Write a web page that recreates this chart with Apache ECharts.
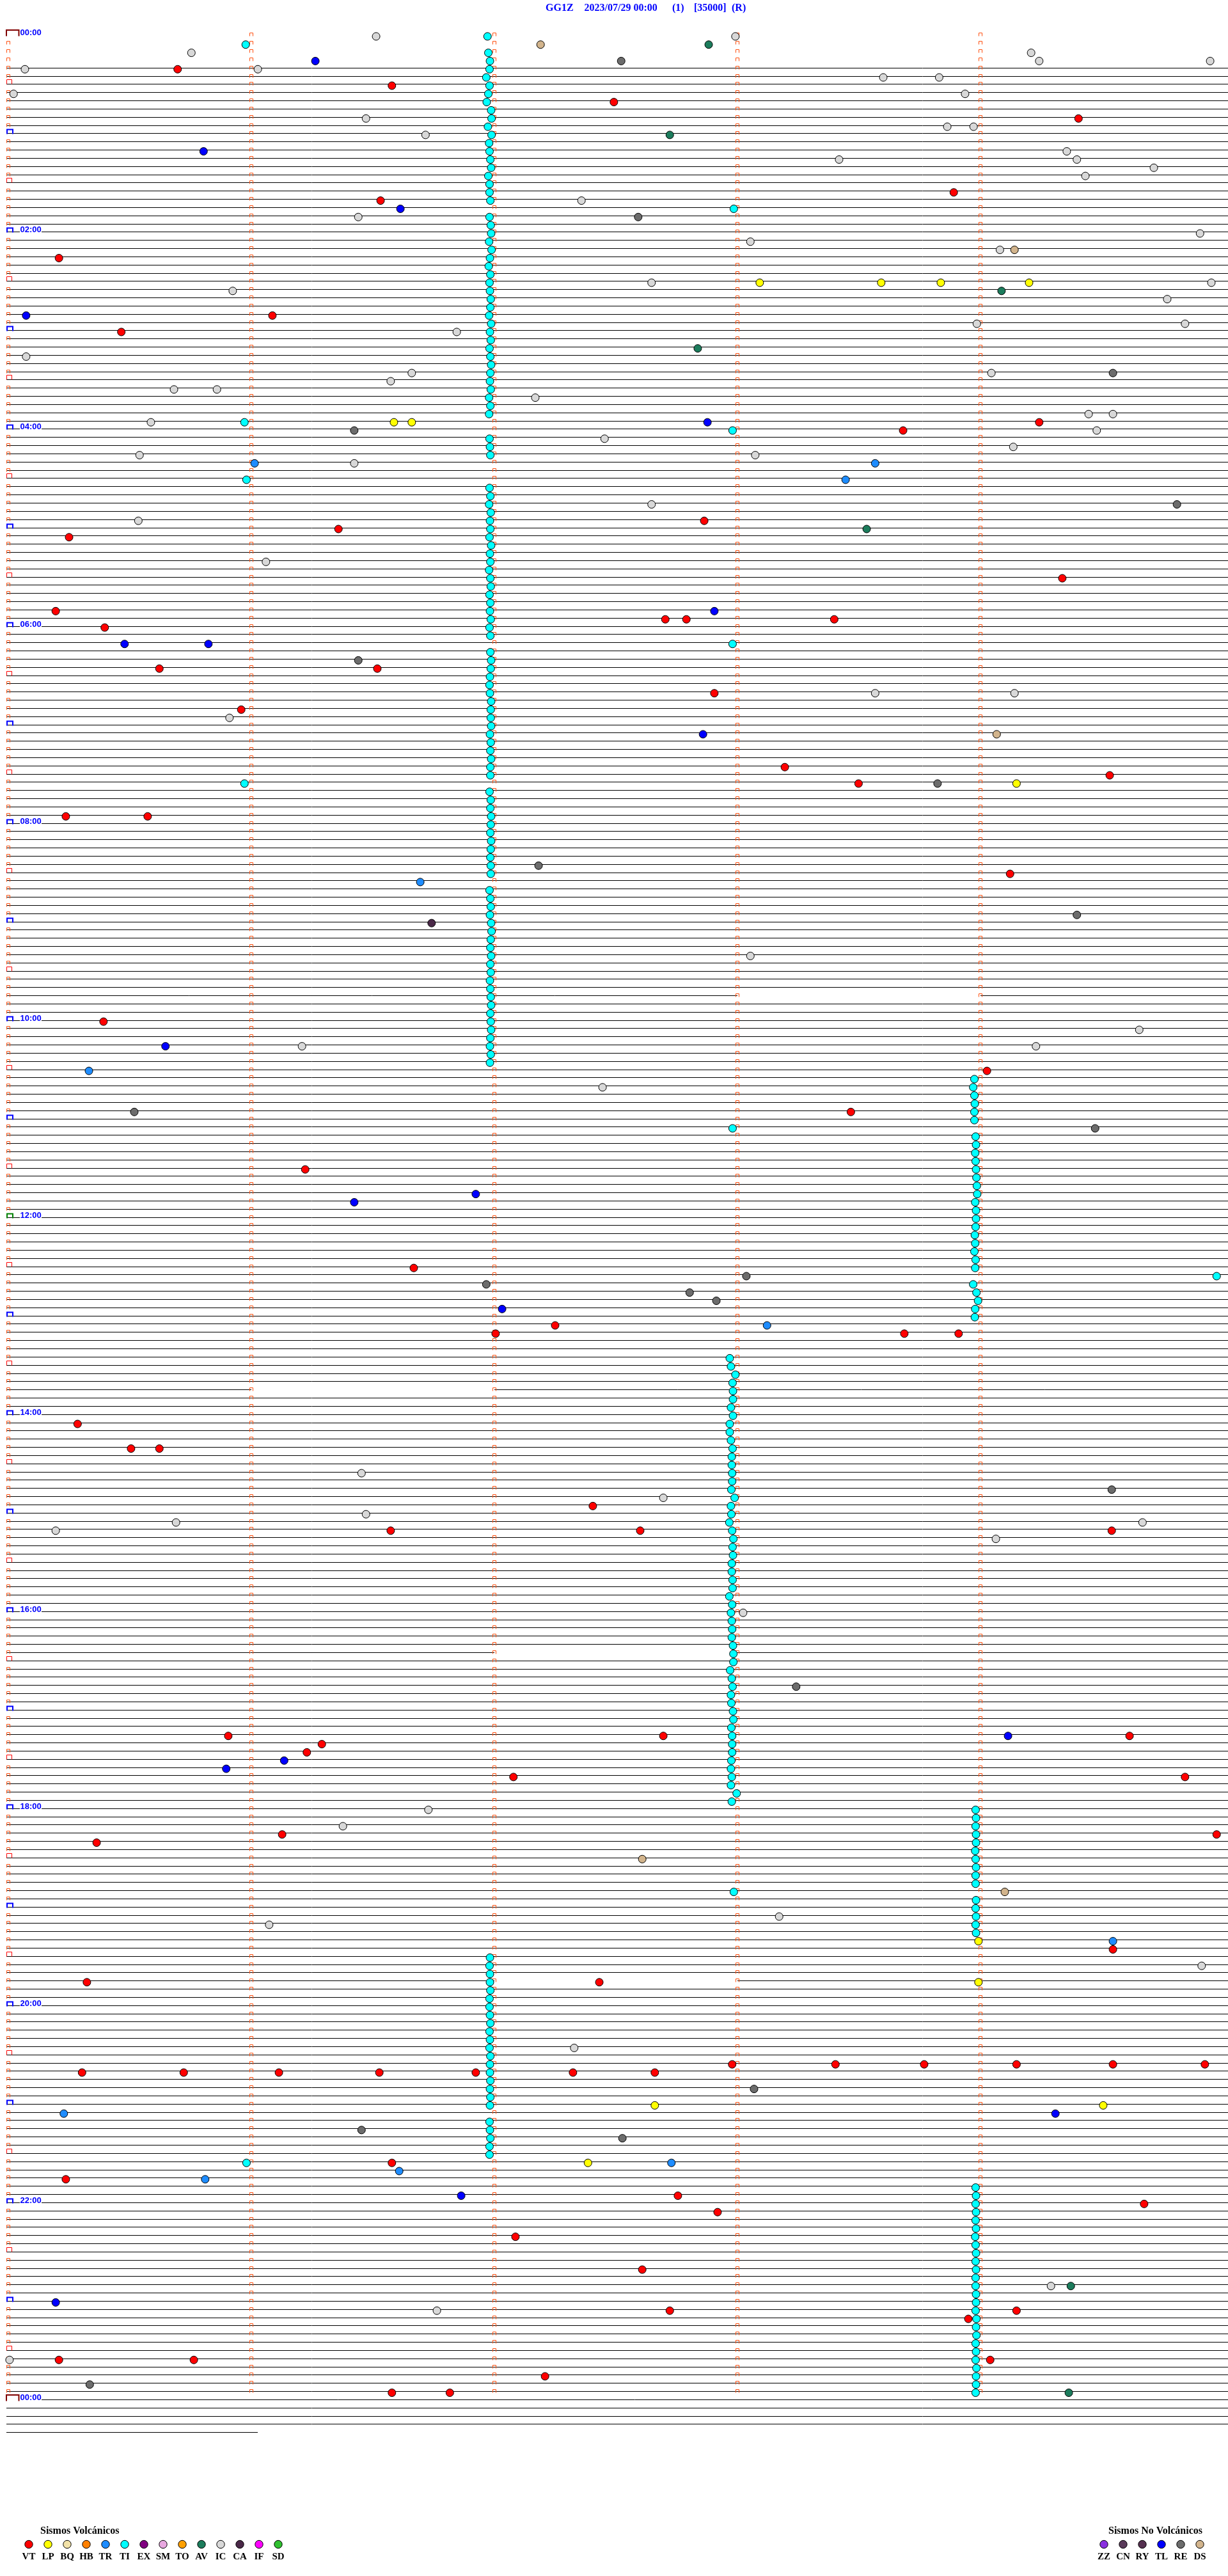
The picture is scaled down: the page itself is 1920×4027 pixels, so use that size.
<!DOCTYPE html>
<html><head><meta charset="utf-8">
<script src="https://cdn.jsdelivr.net/npm/echarts@6/dist/echarts.min.js"></script>
<style>html,body{margin:0;padding:0;background:#fff}#c{width:1920px;height:4027px}</style>
</head><body><div id="c"></div>
<script>
// ---------------- DATA ----------------
const TITLE_TEXTS = ['GG1Z', '2023/07/29 00:00', '(1)', '[35000]', '(R)'];
const TIME_LABELS = ['00:00','02:00','04:00','06:00','08:00','10:00','12:00','14:00','16:00','18:00','20:00','22:00','00:00'];
const ROWS_PER_DAY = 288;          // 5-minute rows
const EXTRA_ROWS = 4;              // trailing empty rows
const LAST_ROW_END_SEC = 61.6;     // the very last trace ends early
const ROW_GAPS = [[117,180,240],[165,60,120],[197,120,180],[237,120,180]]; // [row, fromSec, toSec]
const VOLC_TYPES = ['VT','LP','BQ','HB','TR','TI','EX','SM','TO','AV','IC','CA','IF','SD'];
const NONV_TYPES = ['ZZ','CN','RY','TL','RE','DS'];

// events: [row (5-min slot), second within the row]
const VT = [[4,41.8],[6,94.7],[8,149.5],[10,264.2],[19,233.4],[20,91.9],[27,12.5],[34,65.2],[36,27.9],[47,254.5],[48,220.9],[59,171.8],[60,81.5],[61,15.0],[66,260.2],[70,11.7],[71,162.2],[71,167.4],[71,203.9],[72,23.8],[77,91.1],[77,37.3],[80,174.3],[82,57.5],[89,191.7],[90,271.9],[91,209.9],[95,14.2],[95,34.4],[102,247.3],[120,23.5],[126,241.6],[131,208.0],[138,73.3],[150,100.1],[157,135.0],[158,120.3],[158,221.2],[158,234.6],[169,17.1],[172,30.3],[172,37.3],[179,144.3],[182,94.4],[182,156.0],[182,272.4],[207,54.3],[207,161.7],[207,276.8],[208,77.4],[209,73.7],[212,124.7],[212,290.5],[219,67.6],[219,298.3],[220,21.8],[233,272.7],[237,19.4],[237,145.9],[247,178.7],[247,204.2],[247,226.1],[247,248.9],[247,272.7],[247,295.4],[248,18.2],[248,43.3],[248,66.8],[248,91.6],[248,115.4],[248,139.4],[248,159.6],[259,94.7],[261,14.2],[263,165.3],[264,280.4],[265,175.1],[268,125.2],[272,156.5],[277,163.3],[277,248.9],[278,237.0],[283,12.5],[283,45.8],[283,242.4],[285,132.5],[287,94.7],[287,109.0]];
const LP = [[30,185.5],[30,215.5],[30,230.2],[30,252.0],[47,95.2],[47,99.6],[91,248.9],[232,239.5],[237,239.5],[252,159.6],[252,270.3],[259,143.1]];
const TR = [[52,60.8],[52,214.0],[54,206.7],[103,101.7],[126,19.9],[157,187.3],[232,272.7],[253,13.7],[259,163.7],[260,96.5],[261,48.6]];
const AV = [[1,172.9],[12,163.3],[31,245.2],[38,170.2],[60,211.9],[274,262.3],[287,261.8]];
const CA = [[108,104.5]];
const IC = [[0,90.8],[0,179.5],[2,45.2],[2,252.5],[3,254.5],[3,296.7],[4,4.1],[4,61.6],[5,216.0],[5,229.8],[7,1.3],[7,236.2],[10,88.3],[11,231.8],[11,238.3],[12,103.0],[14,261.3],[15,263.8],[15,205.1],[16,282.8],[17,265.9],[20,141.5],[22,86.4],[24,294.2],[25,183.2],[26,244.8],[30,158.8],[30,297.0],[31,55.4],[32,286.1],[35,239.1],[35,290.5],[36,110.7],[39,4.4],[41,99.6],[41,242.7],[42,94.4],[43,40.9],[43,51.5],[44,130.1],[46,266.7],[46,272.7],[47,35.2],[48,268.7],[49,147.2],[50,248.1],[51,32.4],[51,184.4],[52,85.4],[57,158.8],[59,32.1],[64,63.6],[80,214.0],[80,248.4],[83,54.6],[112,183.2],[121,279.2],[123,72.5],[123,253.7],[128,146.7],[175,87.2],[178,161.7],[180,88.3],[181,41.4],[181,280.0],[182,11.7],[183,243.8],[192,181.4],[216,103.7],[218,82.6],[229,190.3],[230,64.4],[235,294.6],[245,139.7],[274,257.4],[277,105.8],[283,0.3]];
const TL = [[3,75.8],[14,48.2],[21,96.8],[34,4.4],[47,172.6],[70,174.3],[74,28.7],[74,49.4],[85,171.5],[123,38.8],[141,115.4],[142,85.4],[155,121.9],[207,246.8],[210,68.1],[211,53.8],[253,258.5],[263,111.8],[276,11.7]];
const RE = [[3,151.3],[22,155.5],[41,272.7],[48,85.4],[57,288.5],[76,86.4],[91,229.4],[101,130.9],[107,263.8],[131,31.1],[133,268.3],[151,182.2],[152,118.0],[153,168.2],[154,174.8],[177,272.4],[201,194.5],[250,184.1],[255,87.2],[256,151.6],[286,20.1]];
const DS = [[1,131.4],[26,248.4],[85,244.0],[222,156.5],[226,246.0]];
const TI = [[0,118.3],[1,58.6],[2,118.5],[3,118.9],[4,118.8],[5,118.0],[6,118.8],[7,118.5],[8,118.1],[9,119.2],[10,119.3],[11,118.4],[12,119.3],[13,118.7],[14,118.8],[15,119.0],[16,119.2],[17,118.5],[18,118.8],[19,118.8],[20,119.0],[21,179.1],
[22,118.8],[23,119.1],[24,119.2],[25,118.7],[26,119.3],[27,118.9],[28,118.6],[29,119.0],[30,118.8],[31,118.9],[32,119.1],[33,119.0],[34,118.7],[35,119.2],[36,118.9],[37,119.1],[38,118.8],[39,119.0],[40,119.2],[41,119.0],[42,118.9],[43,119.1],[44,118.7],[45,119.0],[46,118.7],
[47,58.3],[48,178.8],[49,118.8],[50,118.9],[51,119.0],[54,58.8],
[55,118.8],[56,119.0],[57,118.7],[58,119.1],[59,118.9],[60,119.0],[61,118.8],[62,119.2],[63,118.9],[64,119.0],[65,118.7],[66,119.0],[67,119.1],[68,118.8],[69,119.0],[70,118.9],[71,119.1],[72,118.8],[73,119.0],[74,178.8],
[75,119.0],[76,119.2],[77,119.1],[78,118.9],[79,118.8],[80,118.9],[81,119.2],[82,119.1],[83,119.1],[84,119.2],[85,118.9],[86,119.1],[87,119.0],[88,119.2],[89,119.0],[90,119.0],[91,58.3],
[92,118.8],[93,119.1],[94,119.0],[95,119.2],[96,119.1],[97,119.0],[98,119.2],[99,119.1],[100,119.0],[101,119.1],[102,119.1],
[104,118.8],[105,119.0],[106,119.1],[107,118.9],[108,119.2],[109,119.3],[110,119.1],[111,119.0],[112,119.2],[113,119.0],[114,119.1],[115,118.9],[116,119.0],[117,119.1],[118,119.2],[119,119.0],[120,119.1],[121,119.2],[122,119.0],[123,118.9],[124,119.1],[125,118.9],
[127,238.5],[128,238.2],[129,238.5],[130,238.6],[131,238.5],[132,238.5],[133,178.8],
[134,238.8],[135,238.9],[136,238.7],[137,238.8],[138,238.9],[139,239.0],[140,239.1],[141,239.2],[142,238.7],[143,238.9],[144,238.9],[145,238.8],[146,238.6],[147,238.7],[148,238.5],[149,238.8],[150,238.7],[151,298.3],
[152,238.2],[153,239.0],[154,239.4],[155,238.7],[156,238.6],
[161,178.1],[162,178.4],[163,179.5],[164,178.8],[165,178.9],[166,178.9],[167,178.4],[168,178.9],[169,178.1],[170,178.1],[171,178.4],[172,178.8],[173,178.6],[174,178.6],[175,178.7],[176,178.7],[177,178.5],[178,179.3],[179,178.4],[180,178.5],[181,178.0],[182,178.7],[183,179.0],[184,178.8],[185,178.9],[186,178.6],[187,178.6],[188,178.8],[189,178.8],[190,178.0],[191,178.7],[192,178.4],[193,178.6],[194,178.7],[195,178.6],[196,178.9],[197,179.0],[198,179.0],[199,178.2],[200,178.6],[201,178.8],[202,178.4],[203,178.5],[204,178.9],[205,179.0],[206,178.5],[207,178.7],[208,178.7],[209,178.7],[210,178.5],[211,178.4],[212,178.6],[213,178.4],[214,179.8],[215,178.6],
[216,238.8],[217,238.9],[218,238.8],[219,238.9],[220,238.9],[221,238.7],[222,238.8],[223,238.9],[224,238.8],[225,238.8],[226,179.1],[227,238.9],[228,238.8],[229,238.9],[230,238.8],[231,238.9],
[234,118.9],[235,118.8],[236,118.9],[237,118.9],[238,119.0],[239,118.8],[240,118.8],[241,118.9],[242,119.0],[243,118.8],[244,118.9],[245,118.8],[246,119.0],[247,118.9],[248,118.9],[249,119.0],[250,118.9],[251,119.0],[252,118.9],
[254,118.8],[255,118.9],[256,119.0],[257,118.8],[258,118.8],[259,58.8],
[262,238.8],[263,238.9],[264,238.8],[265,238.9],[266,238.8],[267,238.9],[268,238.7],[269,238.8],[270,238.9],[271,238.8],[272,238.9],[273,238.8],[274,238.8],[275,238.9],[276,238.9],[277,238.8],[278,239.0],[279,238.9],[280,239.0],[281,238.8],[282,238.9],[283,238.8],[284,239.0],[285,238.9],[286,238.9],[287,238.8]];

const COLORS = {VT:'#ff0000',LP:'#ffff00',BQ:'#f2e2a8',HB:'#ff8000',TR:'#1e8cff',TI:'#00ffff',EX:'#800080',SM:'#e8a8e0',TO:'#ffa000',AV:'#1c7c5c',IC:'#d8d8d8',CA:'#4a2848',IF:'#ff00ff',SD:'#30c030',
                ZZ:'#8a30e0',CN:'#5a3a5a',RY:'#553050',TL:'#0000ff',RE:'#6c6c6c',DS:'#d2b48c'};
const EVENTS = {VT, LP, TR, TI, AV, CA, IC, TL, RE, DS};

// ---------------- LAYOUT ----------------
const PX_PER_SEC = 380/60;
const XMIN = -3/PX_PER_SEC, XMAX = XMIN + 1910/PX_PER_SEC;
const ROW_PX = 12.835;
const ROW0_Y = 54.9;
const YMIN = -4, YMAX = ROWS_PER_DAY + EXTRA_ROWS + 2;

const rowSegs = [];
for (let r = 4; r <= ROWS_PER_DAY + EXTRA_ROWS; r++) {
  let a = XMIN, b = XMAX;
  if (r === ROWS_PER_DAY) a = (65 - 13) / PX_PER_SEC;
  if (r === ROWS_PER_DAY + EXTRA_ROWS) b = LAST_ROW_END_SEC;
  let pieces = [[a, b]];
  ROW_GAPS.filter(g => g[0] === r).forEach(g => {
    pieces = pieces.flatMap(([p, q]) => {
      const out = [];
      if (g[1] > p) out.push([p, Math.min(q, g[1])]);
      if (g[2] < q) out.push([Math.max(p, g[2]), q]);
      return out;
    });
  });
  pieces.forEach(p => rowSegs.push([r, p[0], p[1]]));
}

// row decorations
const brackets = [];   // [row, kind]
const minuteMarks = []; // [row, sec]
for (let r = 0; r < ROWS_PER_DAY; r++) {
  let kind = null;
  if (r === 0) kind = 'day';
  else if (r % 12 === 0) kind = (r === 144 ? 'noon' : 'hour');
  else if (r % 6 === 0) kind = 'half';
  if (kind) brackets.push([r, kind]);
  for (let k = 0; k < 5; k++) {
    if (k === 0 && kind) continue;
    minuteMarks.push([r, k * 60]);
  }
}
brackets.push([ROWS_PER_DAY, 'day']);
const labelRows = TIME_LABELS.map((t, i) => [i * 24, t]);

const series = [];
series.push({
  type: 'custom', name: 'traces', z: 1, silent: true, clip: false,
  data: rowSegs,
  renderItem(params, api) {
    const r = api.value(0);
    const p = api.coord([api.value(1), r]), q = api.coord([api.value(2), r]);
    const y = Math.floor(p[1]) + 0.5;
    return {type: 'line', shape: {x1: Math.round(p[0]), y1: y, x2: Math.round(q[0]), y2: y}, style: {stroke: '#000', lineWidth: 1}};
  }
});
series.push({
  type: 'custom', name: 'minutes', z: 2, silent: true, clip: false,
  data: minuteMarks,
  renderItem(params, api) {
    const r = api.value(0);
    const c = api.coord([api.value(1), r]);
    const x = Math.round(c[0]); const y = Math.floor(c[1]) + 0.5;
    return {type: 'polyline', shape: {points: [[x-2.5, y+2], [x-2.5, y-3], [x+2.5, y-3], [x+2.5, y+2]]}, style: {stroke: '#ff5010', fill: null, lineWidth: 1}};
  }
});
series.push({
  type: 'custom', name: 'brackets', z: 3, silent: true, clip: false,
  data: brackets.map(b => [b[0], b[1] === 'day' ? 0 : b[1] === 'hour' ? 1 : b[1] === 'half' ? 2 : 3]),
  renderItem(params, api) {
    const r = api.value(0), k = api.value(1);
    const y = Math.floor(api.coord([0, r])[1]) + 0.5;
    if (k === 0) return {type: 'polyline', shape: {points: [[10, y+2], [10, y-7.5], [29.5, y-7.5], [29.5, y+2]]}, style: {stroke: '#800000', fill: null, lineWidth: 2}};
    if (k === 2) return {type: 'polyline', shape: {points: [[10.5, y], [10.5, y-7], [18.5, y-7], [18.5, y]]}, style: {stroke: '#ff0000', fill: null, lineWidth: 1}};
    const col = k === 1 ? '#0000ff' : '#008000';
    return {type: 'polyline', shape: {points: [[11, y+1], [11, y-6], [20, y-6], [20, y+1]]}, style: {stroke: col, fill: null, lineWidth: 2}};
  }
});
series.push({
  type: 'custom', name: 'timeLabels', z: 4, silent: true, clip: false,
  data: labelRows,
  dimensions: ['row', {name: 'txt', type: 'ordinal'}],
  renderItem(params, api) {
    const r = labelRows[params.dataIndex][0], t = labelRows[params.dataIndex][1];
    const y = Math.floor(api.coord([0, r])[1]) + 0.5;
    return {type: 'group', children: [
      {type: 'rect', shape: {x: 31, y: y-9, width: 34, height: 11}, style: {fill: '#fff'}},
      {type: 'text', style: {x: 31.5, y: y-3, text: t, fill: '#0000ff', font: 'bold 13px "Liberation Sans", Arial, sans-serif', verticalAlign: 'middle', align: 'left'}}
    ]};
  }
});
Object.keys(EVENTS).forEach(name => {
  series.push({
    type: 'scatter', name, z: 5, silent: true,
    data: EVENTS[name].map(e => [e[1], e[0]]),
    symbol: 'circle', symbolSize: 12, symbolOffset: [0, 2],
    itemStyle: {color: COLORS[name], borderColor: '#000', borderWidth: 1, opacity: 1},
    animation: false
  });
});

// ---------------- TEXT / LEGEND ----------------
const TITLE_X = [853, 913.5, 1051, 1085, 1144];
const graphic = [];
TITLE_TEXTS.forEach((t, i) => graphic.push({type: 'text', x: TITLE_X[i], y: 13, style: {text: t, fill: '#0000ff', font: 'bold 16px "Liberation Serif", "Times New Roman", serif', verticalAlign: 'middle'}}));
graphic.push({type: 'text', x: 63, y: 3957, style: {text: 'Sismos Volcánicos', fill: '#000', font: 'bold 16px "Liberation Serif", serif', verticalAlign: 'middle'}});
graphic.push({type: 'text', x: 1733, y: 3957, style: {text: 'Sismos No Volcánicos', fill: '#000', font: 'bold 16px "Liberation Serif", serif', verticalAlign: 'middle'}});
VOLC_TYPES.forEach((t, i) => {
  const cx = 45 + 30 * i;
  graphic.push({type: 'circle', shape: {cx, cy: 3977.5, r: 6.2}, style: {fill: COLORS[t], stroke: '#000', lineWidth: 1}});
  graphic.push({type: 'text', x: cx, y: 3997, style: {text: t, fill: '#000', font: 'bold 15px "Liberation Serif", serif', align: 'center', verticalAlign: 'middle'}});
});
NONV_TYPES.forEach((t, i) => {
  const cx = 1726 + 30 * i;
  graphic.push({type: 'circle', shape: {cx, cy: 3977.5, r: 6.2}, style: {fill: COLORS[t], stroke: '#000', lineWidth: 1}});
  graphic.push({type: 'text', x: cx, y: 3997, style: {text: t, fill: '#000', font: 'bold 15px "Liberation Serif", serif', align: 'center', verticalAlign: 'middle'}});
});

const chart = echarts.init(document.getElementById('c'), null, {renderer: 'canvas'});
chart.setOption({
  animation: false,
  backgroundColor: '#fff',
  grid: {left: 10, top: ROW0_Y + YMIN * ROW_PX, width: 1910, height: (YMAX - YMIN) * ROW_PX, containLabel: false},
  xAxis: {type: 'value', min: XMIN, max: XMAX, show: false},
  yAxis: {type: 'value', min: YMIN, max: YMAX, inverse: true, show: false},
  series,
  graphic
});
</script></body></html>
